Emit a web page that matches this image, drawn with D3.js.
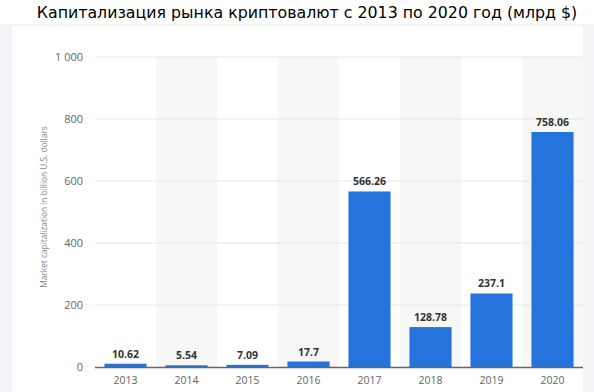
<!DOCTYPE html>
<html>
<head>
<meta charset="utf-8">
<script src="https://cdn.jsdelivr.net/npm/d3@7"></script>
<style>
  body { margin: 0; background: #fff; }
  svg { display: block; }
</style>
</head>
<body>
<div id="chart"></div>
<script>
// data
const years = ['2013', '2014', '2015', '2016', '2017', '2018', '2019', '2020']
const marketCap = [10.62, 5.54, 7.09, 17.7, 566.26, 128.78, 237.1, 758.06]
const yTicks = [0, 200, 400, 600, 800, 1000]

const width = 594
const height = 392
const margin = { top: 57, right: 11, bottom: 25, left: 95 }

const svg = d3.select('#chart')
  .append('svg')
  .attr('width', width)
  .attr('height', height)

// page frame + card
svg.append('rect')
  .attr('x', 0).attr('y', 24)
  .attr('width', width).attr('height', height - 24)
  .attr('fill', '#f3f4f7')
svg.append('rect')
  .attr('x', 12).attr('y', 26)
  .attr('width', 571).attr('height', height - 26)
  .attr('fill', '#fff')

svg.append('text')
  .attr('x', 307)
  .attr('y', 18)
  .attr('text-anchor', 'middle')
  .attr('font-family', 'DejaVu Sans, sans-serif')
  .attr('font-size', 15.8)
  .attr('fill', '#000')
  .text('Капитализация рынка криптовалют с 2013 по 2020 год (млрд $)')

const xScale = d3.scaleBand()
  .domain(years)
  .range([margin.left, width - margin.right])
  .paddingInner(0.31)
  .paddingOuter(0.155)

const yScale = d3.scaleLinear()
  .domain([0, 1000])
  .range([height - margin.bottom, margin.top])

const step = xScale.step()
const bandLeft = d => xScale(d) - (step - xScale.bandwidth()) / 2

// shaded columns
svg.selectAll('rect.band')
  .data(years.filter((d, i) => i % 2 === 1))
  .enter()
  .append('rect')
  .attr('class', 'band')
  .attr('x', d => bandLeft(d))
  .attr('y', yScale(1000))
  .attr('width', step)
  .attr('height', yScale(0) - yScale(1000))
  .attr('fill', '#f7f7f7')

// gridlines
svg.selectAll('line.grid')
  .data(yTicks.filter(d => d > 0))
  .enter()
  .append('line')
  .attr('class', 'grid')
  .attr('x1', margin.left)
  .attr('x2', width - margin.right)
  .attr('y1', d => yScale(d))
  .attr('y2', d => yScale(d))
  .attr('stroke', '#e6e6e6')
  .attr('stroke-width', 1)

// y axis labels
svg.selectAll('text.ytick')
  .data(yTicks)
  .enter()
  .append('text')
  .attr('class', 'ytick')
  .attr('x', 83)
  .attr('y', d => yScale(d) + 4)
  .attr('text-anchor', 'end')
  .attr('font-family', 'Open Sans, sans-serif')
  .attr('font-size', 11)
  .attr('fill', '#666')
  .text(d => d3.format(',')(d).replace(',', '\u00a0'))

svg.append('text')
  .attr('transform', 'translate(47, 207) rotate(-90)')
  .attr('text-anchor', 'middle')
  .attr('font-family', 'Open Sans, sans-serif')
  .attr('font-size', 8.3)
  .attr('fill', '#888')
  .text('Market capitalization in billion U.S. dollars')

// bars
const bars = svg.selectAll('g.bar')
  .data(years.map((y, i) => ({ year: y, value: marketCap[i] })))
  .enter()
  .append('g')
  .attr('class', 'bar')

bars.append('rect')
  .attr('x', d => xScale(d.year))
  .attr('y', d => yScale(d.value))
  .attr('width', xScale.bandwidth())
  .attr('height', d => yScale(0) - yScale(d.value))
  .attr('fill', '#2574dd')

bars.append('text')
  .attr('x', d => xScale(d.year) + xScale.bandwidth() / 2)
  .attr('y', d => yScale(d.value) - 6)
  .attr('text-anchor', 'middle')
  .attr('font-family', 'Open Sans, sans-serif')
  .attr('font-weight', 'bold')
  .attr('font-size', 10.5)
  .attr('fill', '#333')
  .text(d => d.value)

// x axis
svg.append('line')
  .attr('x1', margin.left)
  .attr('x2', width - margin.right)
  .attr('y1', yScale(0) + 0.5)
  .attr('y2', yScale(0) + 0.5)
  .attr('stroke', '#666')
  .attr('stroke-width', 1.5)

svg.selectAll('text.xtick')
  .data(years)
  .enter()
  .append('text')
  .attr('class', 'xtick')
  .attr('x', d => xScale(d) + xScale.bandwidth() / 2)
  .attr('y', yScale(0) + 17)
  .attr('text-anchor', 'middle')
  .attr('font-family', 'Open Sans, sans-serif')
  .attr('font-size', 10.5)
  .attr('fill', '#666')
  .text(d => d)
</script>
</body>
</html>
